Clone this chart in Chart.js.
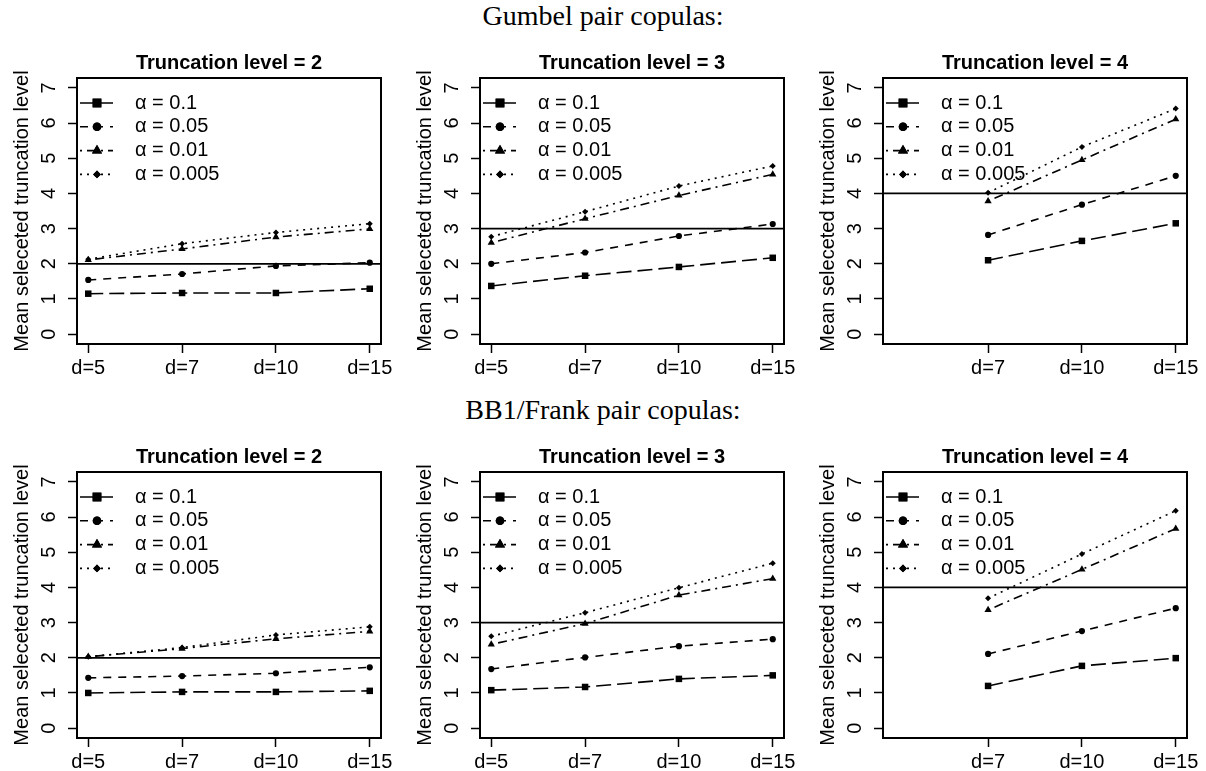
<!DOCTYPE html>
<html>
<head>
<meta charset="utf-8">
<script src="https://cdn.jsdelivr.net/npm/chart.js@4/dist/chart.umd.min.js"></script>
<style>
body { margin: 0; background: #fff; width: 1206px; height: 771px; overflow: hidden; position: relative; }
.panel { position: absolute; width: 403px; height: 394px; }
.maintitle { position: absolute; left: 0; width: 1206px; text-align: center; font-family: "Liberation Serif", serif; font-size: 28px; color: #000; }
</style>
</head>
<body>
<div class="maintitle" style="top:0px">Gumbel pair copulas:</div>
<div class="maintitle" style="top:394px">BB1/Frank pair copulas:</div>
<div class="panel" style="left:0;top:0"><canvas id="c0" width="403" height="394"></canvas></div>
<div class="panel" style="left:403px;top:0"><canvas id="c1" width="403" height="394"></canvas></div>
<div class="panel" style="left:806px;top:0"><canvas id="c2" width="403" height="394"></canvas></div>
<div class="panel" style="left:0;top:394px"><canvas id="c3" width="403" height="394"></canvas></div>
<div class="panel" style="left:403px;top:394px"><canvas id="c4" width="403" height="394"></canvas></div>
<div class="panel" style="left:806px;top:394px"><canvas id="c5" width="403" height="394"></canvas></div>
<script>
// Data
const categories = ['d=5', 'd=7', 'd=10', 'd=15'];
const alphas = ['0.1', '0.05', '0.01', '0.005'];
const truncLevels = [2, 3, 4];
const yTicks = [0, 1, 2, 3, 4, 5, 6, 7];

// rows: alpha = 0.1, 0.05, 0.01, 0.005
const gumbelT2 = [
    [1.15, 1.17, 1.17, 1.29],
    [1.54, 1.71, 1.94, 2.03],
    [2.11, 2.42, 2.76, 2.99],
    [2.13, 2.57, 2.89, 3.14]
];
const gumbelT3 = [
    [1.37, 1.66, 1.91, 2.17],
    [2.00, 2.32, 2.79, 3.13],
    [2.60, 3.28, 3.94, 4.54],
    [2.77, 3.48, 4.21, 4.78]
];
const gumbelT4 = [
    [null, 2.10, 2.65, 3.15],
    [null, 2.82, 3.68, 4.50],
    [null, 3.78, 4.95, 6.11],
    [null, 4.02, 5.32, 6.41]
];
const bb1T2 = [
    [1.00, 1.03, 1.03, 1.06],
    [1.43, 1.48, 1.56, 1.73],
    [2.03, 2.26, 2.54, 2.75],
    [2.03, 2.29, 2.65, 2.88]
];
const bb1T3 = [
    [1.08, 1.17, 1.40, 1.50],
    [1.68, 2.01, 2.33, 2.53],
    [2.38, 2.97, 3.78, 4.25],
    [2.61, 3.28, 3.99, 4.69]
];
const bb1T4 = [
    [null, 1.20, 1.77, 1.99],
    [null, 2.11, 2.76, 3.41],
    [null, 3.36, 4.51, 5.67],
    [null, 3.69, 4.95, 6.18]
];

const panels = [
    { id: 'c0', values: gumbelT2, level: truncLevels[0] },
    { id: 'c1', values: gumbelT3, level: truncLevels[1] },
    { id: 'c2', values: gumbelT4, level: truncLevels[2] },
    { id: 'c3', values: bb1T2, level: truncLevels[0] },
    { id: 'c4', values: bb1T3, level: truncLevels[1] },
    { id: 'c5', values: bb1T4, level: truncLevels[2] }
];

// line / marker look for each alpha
const seriesStyle = [
    { dash: [15, 6], point: 'rect', r: 4.6, lr: 6.2 },
    { dash: [8, 7], point: 'circle', r: 3.1, lr: 4.3 },
    { dash: [2, 5, 9, 5], point: 'triangle', r: 4.2, lr: 5.8 },
    { dash: [2, 5], point: 'rectRot', r: 3, lr: 3.9 }
];

const SANS = '"Liberation Sans", Arial, sans-serif';
const FS = 20;

// Panel decorations: reference line, box, title, rotated y labels, legend
const decor = {
    id: 'decor',
    beforeDatasetsDraw(chart, args, opts) {
        const { ctx, chartArea: a, scales: { y } } = chart;
        const py = y.getPixelForValue(opts.level);
        ctx.save();
        ctx.strokeStyle = '#000';
        ctx.lineWidth = 1.8;
        ctx.beginPath();
        ctx.moveTo(a.left, py);
        ctx.lineTo(a.right, py);
        ctx.stroke();
        ctx.restore();
    },
    afterDraw(chart, args, opts) {
        const { ctx, chartArea: a, scales: { y } } = chart;
        ctx.save();
        ctx.strokeStyle = '#000';
        ctx.lineWidth = 2;
        ctx.setLineDash([]);
        ctx.strokeRect(a.left, a.top, a.right - a.left, a.bottom - a.top);

        ctx.fillStyle = '#000';
        ctx.font = 'bold ' + FS + 'px ' + SANS;
        ctx.textAlign = 'center';
        ctx.textBaseline = 'middle';
        ctx.fillText('Truncation level = ' + opts.level, (a.left + a.right) / 2, a.top - 15);

        ctx.font = FS + 'px ' + SANS;
        y.ticks.forEach(t => {
            ctx.save();
            ctx.translate(a.left - 28, y.getPixelForValue(t.value));
            ctx.rotate(-Math.PI / 2);
            ctx.fillText(String(t.value), 0, 0);
            ctx.restore();
        });

        // legend
        chart.data.datasets.forEach((ds, i) => {
            const ly = a.top + 25 + i * 23.8;
            ctx.lineWidth = 1.6;
            ctx.setLineDash(ds.borderDash);
            ctx.beginPath();
            ctx.moveTo(a.left + 3, ly);
            ctx.lineTo(a.left + 36, ly);
            ctx.stroke();
            ctx.setLineDash([]);
            Chart.helpers.drawPoint(ctx, {
                pointStyle: ds.pointStyle, radius: ds.legendRadius, rotation: 0, borderWidth: 0
            }, a.left + 20, ly);
            ctx.fill();
            ctx.textAlign = 'left';
            ctx.fillText(ds.label, a.left + 58, ly);
        });
        ctx.restore();
    }
};

function makeChart(p) {
    const datasets = p.values.map((vals, i) => ({
        label: 'α = ' + alphas[i],
        data: vals.map((v, j) => ({ x: j + 1, y: v })),
        borderColor: '#000',
        backgroundColor: '#000',
        borderWidth: 1.6,
        borderDash: seriesStyle[i].dash,
        pointStyle: seriesStyle[i].point,
        pointRadius: seriesStyle[i].r,
        pointBorderWidth: 0,
        legendRadius: seriesStyle[i].lr,
        spanGaps: false,
        tension: 0
    }));
    const hasData = categories.map((c, j) => p.values.some(row => row[j] !== null));

    return new Chart(document.getElementById(p.id), {
        type: 'line',
        data: { datasets },
        plugins: [decor],
        options: {
            responsive: false,
            animation: false,
            layout: { padding: { top: 78, right: 22, left: 0, bottom: 0 } },
            plugins: {
                legend: { display: false },
                tooltip: { enabled: false },
                decor: { level: p.level }
            },
            scales: {
                x: {
                    type: 'linear',
                    min: 0.88,
                    max: 4.12,
                    afterBuildTicks: s => {
                        s.ticks = categories.map((c, j) => ({ value: j + 1 })).filter((t, j) => hasData[j]);
                    },
                    afterFit: s => { s.height = 50; },
                    ticks: {
                        callback: v => categories[v - 1],
                        autoSkip: false,
                        maxRotation: 0,
                        padding: 3,
                        color: '#000',
                        font: { family: SANS, size: FS }
                    },
                    grid: { display: true, drawOnChartArea: false, drawTicks: true, tickLength: 9, tickColor: '#000', tickWidth: 1.5 },
                    border: { display: false }
                },
                y: {
                    type: 'linear',
                    min: -0.28,
                    max: 7.28,
                    afterBuildTicks: s => { s.ticks = yTicks.map(v => ({ value: v })); },
                    afterFit: s => { s.width = 77; },
                    ticks: { display: false },
                    grid: { display: true, drawOnChartArea: false, drawTicks: true, tickLength: 9, tickColor: '#000', tickWidth: 1.5 },
                    border: { display: false },
                    title: {
                        display: true,
                        text: 'Mean seleceted truncation level',
                        color: '#000',
                        padding: { top: 10, bottom: 0 },
                        font: { family: SANS, size: FS }
                    }
                }
            }
        }
    });
}

panels.forEach(makeChart);
</script>
</body>
</html>
